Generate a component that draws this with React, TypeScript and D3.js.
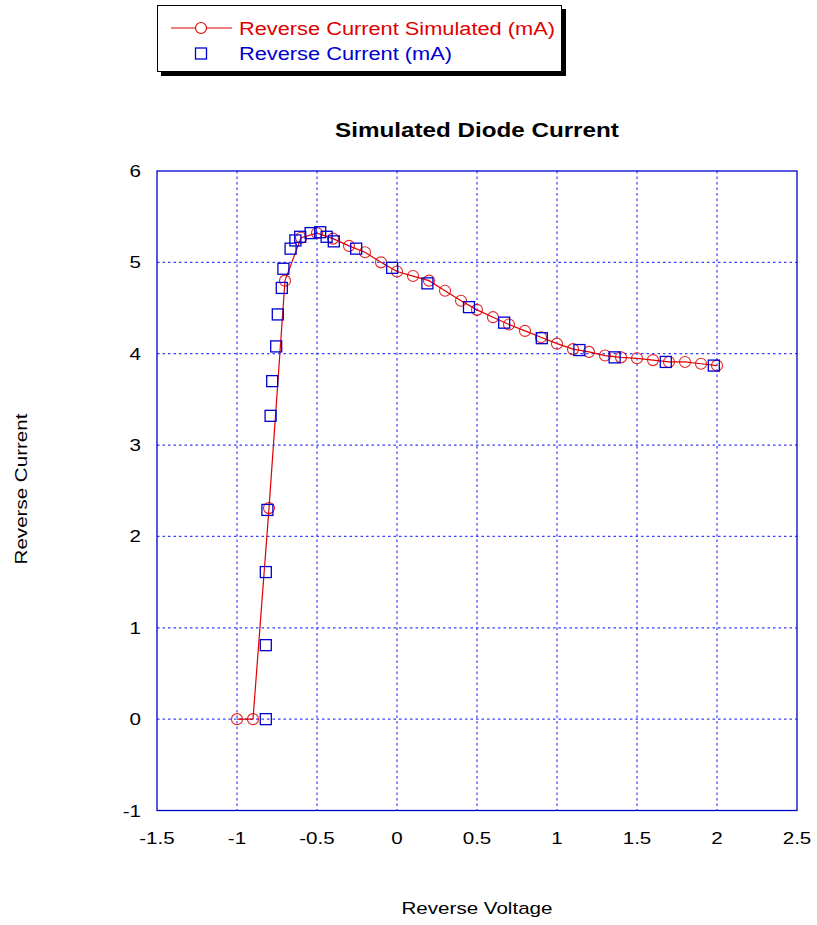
import React, { useEffect, useRef } from 'react';
import * as d3 from 'd3';

// simulated curve (red circles + line)
const simV = [-1, -0.9, -0.8, -0.7, -0.6, -0.5, -0.4, -0.3, -0.2, -0.1, 0, 0.1, 0.2, 0.3, 0.4, 0.5, 0.6, 0.7, 0.8, 0.9, 1.0, 1.1, 1.2, 1.3, 1.4, 1.5, 1.6, 1.7, 1.8, 1.9, 2.0];
const simI = [0, 0, 2.31, 4.8, 5.27, 5.32, 5.26, 5.18, 5.11, 5.0, 4.9, 4.85, 4.8, 4.69, 4.58, 4.48, 4.4, 4.32, 4.25, 4.18, 4.11, 4.05, 4.02, 3.98, 3.96, 3.95, 3.93, 3.91, 3.91, 3.89, 3.87];

// measured points (blue squares)
const measV = [-0.82, -0.82, -0.82, -0.81, -0.79, -0.78, -0.755, -0.745, -0.72, -0.71, -0.665, -0.635, -0.605, -0.54, -0.48, -0.44, -0.395, -0.255, -0.03, 0.19, 0.45, 0.67, 0.905, 1.14, 1.36, 1.68, 1.98];
const measI = [0, 0.81, 1.61, 2.29, 3.32, 3.7, 4.08, 4.43, 4.72, 4.93, 5.15, 5.24, 5.28, 5.32, 5.33, 5.28, 5.23, 5.15, 4.94, 4.77, 4.51, 4.34, 4.17, 4.04, 3.96, 3.91, 3.87];

const xTicks = [-1.5, -1, -0.5, 0, 0.5, 1, 1.5, 2, 2.5];
const yTicks = [-1, 0, 1, 2, 3, 4, 5, 6];

const legendItems = ['Reverse Current Simulated (mA)', 'Reverse Current (mA)'];

const W = 817, H = 925;
const font = 'Arial, "Liberation Sans", sans-serif';

export default function App() {
    const ref = useRef<SVGSVGElement>(null);

    useEffect(() => {
        const svg = d3.select(ref.current);
        svg.selectAll('*').remove();

        const left = 157, right = 797, top = 171, bottom = 810.5;
        const x = d3.scaleLinear().domain([-1.5, 2.5]).range([left, right]);
        const y = d3.scaleLinear().domain([-1, 6]).range([bottom, top]);
        const red = '#e00000';
        const blue = '#0000d0';

        svg.append('rect').attr('width', W).attr('height', H).attr('fill', 'white');

        // grid
        const grid = svg.append('g').attr('stroke', '#3c3cff').attr('stroke-width', 1.2).attr('stroke-dasharray', '2.5,3');
        grid.selectAll('.gx').data(xTicks.slice(1, -1)).join('line')
            .attr('x1', d => x(d)).attr('x2', d => x(d)).attr('y1', top).attr('y2', bottom);
        grid.selectAll('.gy').data(yTicks.slice(1, -1)).join('line')
            .attr('y1', d => y(d)).attr('y2', d => y(d)).attr('x1', left).attr('x2', right);

        // frame
        svg.append('rect').attr('x', left).attr('y', top).attr('width', right - left).attr('height', bottom - top)
            .attr('fill', 'none').attr('stroke', blue).attr('stroke-width', 1.3);

        // tick labels
        svg.append('g').selectAll('text').data(yTicks).join('text')
            .attr('class', 'wide')
            .attr('x', 141).attr('y', d => y(d) + 6).attr('text-anchor', 'end')
            .attr('font-family', font).attr('font-size', 17).text(d => d);
        svg.append('g').selectAll('text').data(xTicks).join('text')
            .attr('class', 'wide')
            .attr('x', d => x(d)).attr('y', 844).attr('text-anchor', 'middle')
            .attr('font-family', font).attr('font-size', 17).text(d => d);

        // titles
        svg.append('text').attr('class', 'wide').attr('x', 477).attr('y', 137).attr('text-anchor', 'middle')
            .attr('font-family', font).attr('font-size', 20).attr('font-weight', 'bold').text('Simulated Diode Current');
        svg.append('text').attr('class', 'wide').attr('x', 477).attr('y', 914).attr('text-anchor', 'middle')
            .attr('font-family', font).attr('font-size', 17).text('Reverse Voltage');
        svg.append('text').attr('class', 'wide').attr('transform', 'translate(27,489) rotate(-90)').attr('text-anchor', 'middle')
            .attr('font-family', font).attr('font-size', 17).text('Reverse Current');

        // simulated line + circles
        const line = d3.line<number>().x((d, i) => x(simV[i])).y(d => y(d));
        svg.append('path').datum(simI).attr('d', line).attr('fill', 'none').attr('stroke', red).attr('stroke-width', 1.2);
        svg.append('g').selectAll('circle').data(simI).join('circle')
            .attr('cx', (d, i) => x(simV[i])).attr('cy', d => y(d)).attr('r', 5.5)
            .attr('fill', 'none').attr('stroke', red).attr('stroke-width', 1.1).attr('stroke-opacity', 0.85);

        // measured squares
        svg.append('g').selectAll('rect').data(measI).join('rect')
            .attr('x', (d, i) => x(measV[i]) - 5.5).attr('y', d => y(d) - 5.5)
            .attr('width', 11).attr('height', 11)
            .attr('fill', 'none').attr('stroke', blue).attr('stroke-width', 1.3);

        // legend
        const lg = svg.append('g');
        lg.append('rect').attr('x', 161).attr('y', 9).attr('width', 405).attr('height', 67).attr('fill', 'black');
        lg.append('rect').attr('x', 157.5).attr('y', 5.5).attr('width', 404).attr('height', 66)
            .attr('fill', 'white').attr('stroke', 'black').attr('stroke-width', 1);
        lg.append('line').attr('x1', 171).attr('x2', 232).attr('y1', 28).attr('y2', 28).attr('stroke', red).attr('stroke-width', 1.2);
        lg.append('circle').attr('cx', 201).attr('cy', 28).attr('r', 5.5).attr('fill', 'white').attr('stroke', red).attr('stroke-width', 1.1);
        lg.append('rect').attr('x', 195.5).attr('y', 48).attr('width', 11).attr('height', 11).attr('fill', 'none').attr('stroke', blue).attr('stroke-width', 1.3);
        lg.selectAll('.lt').data(legendItems).join('text')
            .attr('class', 'wide')
            .attr('x', 239).attr('y', (d, i) => 35 + i * 25)
            .attr('font-family', font).attr('font-size', 18)
            .attr('fill', (d, i) => i === 0 ? red : blue).text(d => d);

        // the original font runs wider than Liberation Sans: stretch horizontally
        svg.selectAll<SVGTextElement, unknown>('text.wide').each(function () {
            const len = this.getComputedTextLength();
            d3.select(this).attr('textLength', len * 1.21).attr('lengthAdjust', 'spacingAndGlyphs');
        });
    }, []);

    return <svg ref={ref} width={W} height={H} style={{ position: 'absolute', left: 0, top: 0 }}></svg>;
}
